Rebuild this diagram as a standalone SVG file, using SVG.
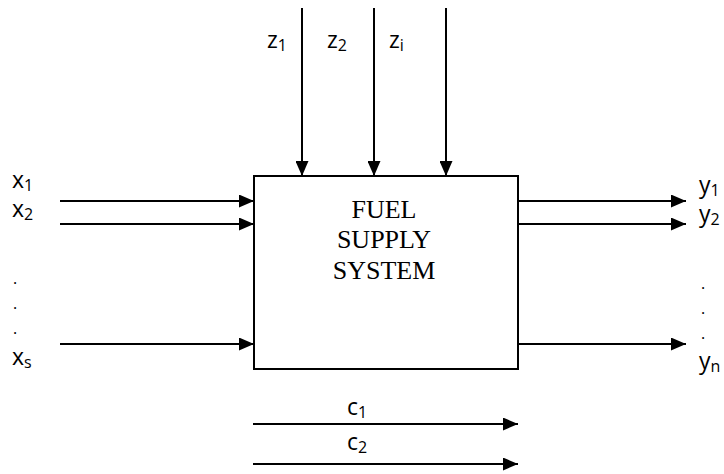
<svg xmlns="http://www.w3.org/2000/svg" width="724" height="474" viewBox="0 0 724 474">
<defs>
<marker id="ah" viewBox="0 0 15 13" refX="15" refY="6.5" markerWidth="15" markerHeight="13" markerUnits="userSpaceOnUse" orient="auto">
<path d="M0,0 L15,6.5 L0,13 Z" fill="#000"/>
</marker>
</defs>
<style>
.c{stroke:#000;stroke-width:2;fill:none;marker-end:url(#ah)}
.l{font-family:"Open Sans","Liberation Sans",sans-serif;font-size:23px;fill:#000}
.s{font-size:16px}
.d{font-family:"Open Sans","Liberation Sans",sans-serif;font-size:16px;fill:#000}
.t{font-family:"Liberation Serif",serif;font-size:26px;fill:#000;text-anchor:middle}
</style>
<rect width="724" height="474" fill="#fff"/>
<g id="system">
<rect x="254" y="176" width="264" height="193" fill="#fff" stroke="#000" stroke-width="2"/>
<text class="t" x="384" y="218">FUEL</text>
<text class="t" x="384" y="248">SUPPLY</text>
<text class="t" x="384" y="279">SYSTEM</text>
</g>
<g id="connectors">
<line class="c" x1="302" y1="8" x2="302" y2="176"/>
<line class="c" x1="374" y1="8" x2="374" y2="176"/>
<line class="c" x1="446" y1="8" x2="446" y2="176"/>
<line class="c" x1="60" y1="201" x2="254" y2="201"/>
<line class="c" x1="60" y1="224" x2="254" y2="224"/>
<line class="c" x1="60" y1="344" x2="254" y2="344"/>
<line class="c" x1="518" y1="201" x2="686" y2="201"/>
<line class="c" x1="518" y1="224" x2="686" y2="224"/>
<line class="c" x1="518" y1="344" x2="686" y2="344"/>
<line class="c" x1="253" y1="424" x2="518" y2="424"/>
<line class="c" x1="253" y1="464" x2="518" y2="464"/>
</g>
<g id="labels">
<text class="l" x="267" y="48">z<tspan class="s" dy="3">1</tspan></text>
<text class="l" x="327" y="48">z<tspan class="s" dy="3">2</tspan></text>
<text class="l" x="389" y="48">z<tspan class="s" dy="3">i</tspan></text>
<text class="l" x="12" y="188">x<tspan class="s" dy="3">1</tspan></text>
<text class="l" x="12" y="217">x<tspan class="s" dy="3">2</tspan></text>
<text class="d" x="13" y="284">.</text>
<text class="d" x="13" y="309">.</text>
<text class="d" x="13" y="334">.</text>
<text class="l" x="12" y="365">x<tspan class="s" dy="3">s</tspan></text>
<text class="l" x="699" y="193">y<tspan class="s" dy="3">1</tspan></text>
<text class="l" x="699" y="222">y<tspan class="s" dy="3">2</tspan></text>
<text class="d" x="701" y="289">.</text>
<text class="d" x="701" y="314">.</text>
<text class="d" x="701" y="339">.</text>
<text class="l" x="699" y="369">y<tspan class="s" dy="3">n</tspan></text>
<text class="l" x="347" y="415">c<tspan class="s" dy="3">1</tspan></text>
<text class="l" x="347" y="450">c<tspan class="s" dy="3">2</tspan></text>
</g>
</svg>
